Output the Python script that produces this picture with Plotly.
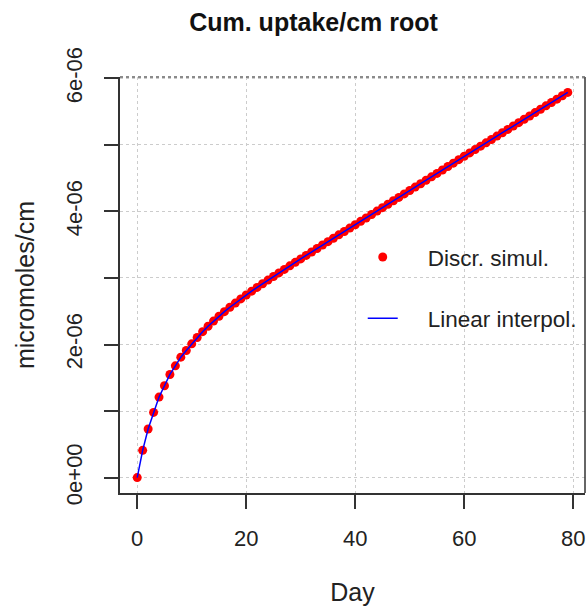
import plotly.graph_objects as go

# ---- data ----
days = list(range(0, 80))
uptake_e6 = [
    0.000, 0.410, 0.730, 0.980, 1.210, 1.380, 1.550, 1.680, 1.810, 1.910,
    2.010, 2.105, 2.193, 2.275, 2.352, 2.425, 2.494, 2.560, 2.623, 2.685,
    2.745, 2.802, 2.858, 2.913, 2.968, 3.022, 3.076, 3.129, 3.182, 3.235,
    3.287, 3.339, 3.391, 3.443, 3.495, 3.546, 3.597, 3.648, 3.699, 3.750,
    3.800, 3.851, 3.902, 3.954, 4.005, 4.057, 4.108, 4.160, 4.211, 4.263,
    4.314, 4.366, 4.417, 4.469, 4.520, 4.572, 4.623, 4.675, 4.726, 4.778,
    4.829, 4.880, 4.930, 4.981, 5.031, 5.082, 5.132, 5.183, 5.233, 5.284,
    5.334, 5.385, 5.435, 5.486, 5.536, 5.587, 5.637, 5.688, 5.738, 5.789,
]
uptake = [v * 1e-6 for v in uptake_e6]  # micromoles/cm

x_tickvals = [0, 20, 40, 60, 80]
x_ticktext = ["0", "20", "40", "60", "80"]
y_tickvals = [0, 1e-6, 2e-6, 3e-6, 4e-6, 5e-6, 6e-6]
y_ticktext = ["0e+00", "", "2e-06", "", "4e-06", "", "6e-06"]

FONT = "Liberation Sans, Arial, Helvetica, sans-serif"
AX = "#333333"
GRID = "#cccccc"
NB = "\u00a0" * 4

fig = go.Figure()
fig.add_trace(go.Scatter(
    x=days, y=uptake, mode="markers", name=NB + "Discr. simul.",
    marker=dict(color="red", size=9), legendgroup="a",
))
fig.add_trace(go.Scatter(
    x=days, y=uptake, mode="lines", name=NB + "Linear interpol.",
    line=dict(color="blue", width=1.5), legendgroup="b",
))

# R-style 4% padding
xmin, xmax = min(days), max(days)
ymin, ymax = min(uptake), max(uptake)
xpad = 0.04 * (xmax - xmin)
ypad = 0.04 * (ymax - ymin)

fig.update_layout(
    width=588, height=609,
    margin=dict(l=120, r=3, t=77, b=116, autoexpand=False),
    paper_bgcolor="white", plot_bgcolor="white",
    font=dict(family=FONT, size=21, color="#222222"),
    title=dict(text="<b>Cum. uptake/cm root</b>", x=313.5 / 588, xanchor="center",
               y=1 - 22 / 609, yanchor="middle", font=dict(size=25, color="#111111")),
    showlegend=True,
    legend=dict(x=0.522, y=0.618, xanchor="left", yanchor="top",
                bgcolor="rgba(0,0,0,0)", borderwidth=0, tracegroupgap=29,
                font=dict(size=22.5, color="#222222")),
    xaxis=dict(
        range=[xmin - xpad, xmax + xpad], tickmode="array",
        tickvals=x_tickvals, ticktext=x_ticktext, automargin=False,
        ticks="outside", ticklen=14, tickwidth=1.5, tickcolor=AX,
        showline=True, linewidth=2, linecolor=AX, mirror=False,
        showgrid=True, gridcolor=GRID, griddash="dot", gridwidth=1.3,
        zeroline=False, ticklabelstandoff=11, tickfont=dict(size=22),
        title=dict(text="Day", standoff=33),
    ),
    yaxis=dict(
        range=[ymin - ypad, ymax + ypad], tickmode="array",
        tickvals=y_tickvals, ticktext=y_ticktext, tickangle=-90, automargin=False,
        ticks="outside", ticklen=14, tickwidth=1.5, tickcolor=AX,
        showline=True, linewidth=2, linecolor=AX, mirror=False,
        showgrid=True, gridcolor=GRID, griddash="dot", gridwidth=1.3,
        zeroline=False, ticklabelstandoff=13, tickfont=dict(size=22),
        title=dict(text="micromoles/cm", standoff=20),
    ),
)
# right border (solid) and top border (dashed)
fig.add_shape(type="line", xref="paper", yref="paper", x0=1, x1=1, y0=0, y1=1,
              line=dict(color=AX, width=1.5))
fig.add_shape(type="line", xref="paper", yref="paper", x0=0, x1=1, y0=1, y1=1,
              line=dict(color="#666666", width=1.5, dash="dot"))

fig.write_html("out.html", config={"displayModeBar": False},
               post_script="document.body.style.margin='0';document.body.style.padding='0';")
